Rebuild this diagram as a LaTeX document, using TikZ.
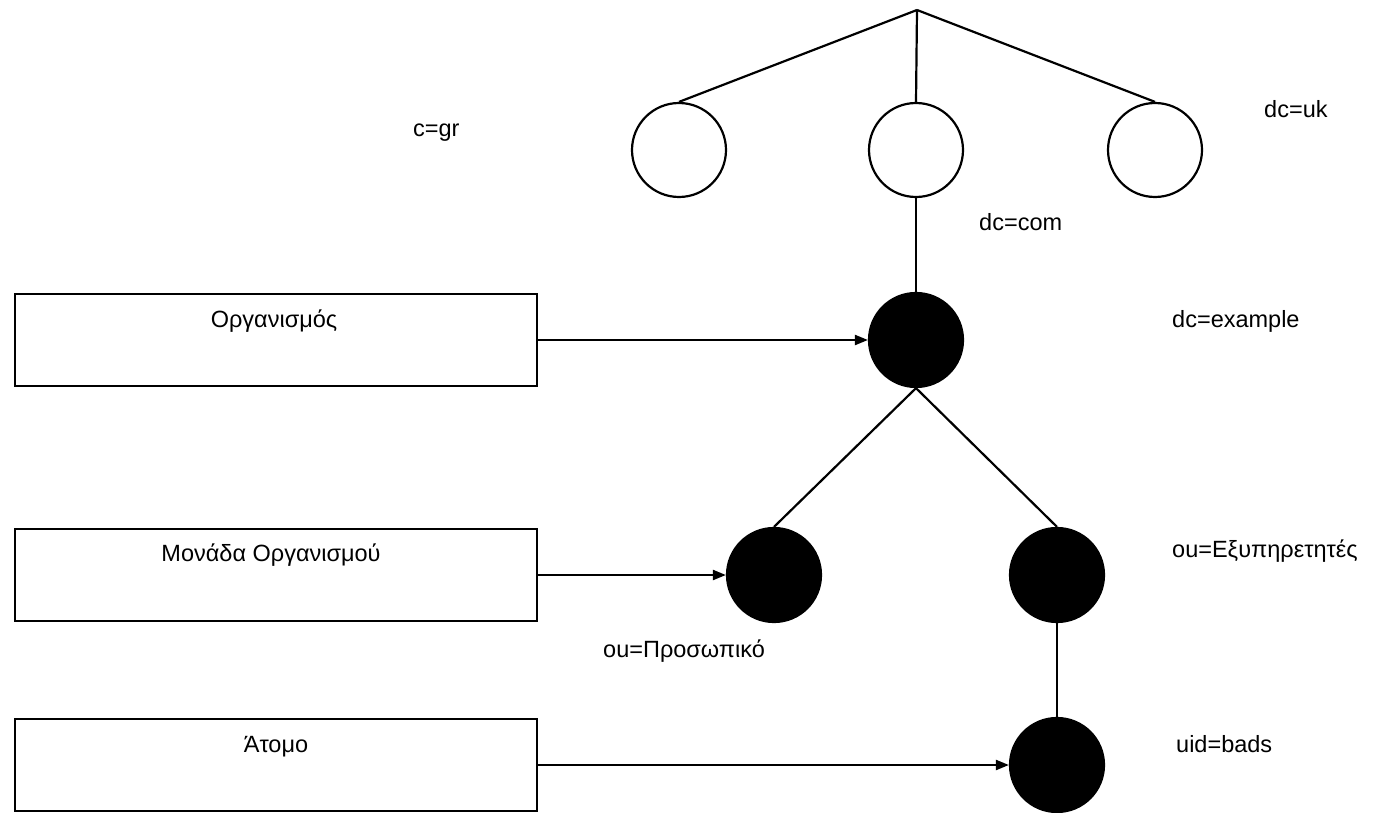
\documentclass[tikz,border=0pt]{standalone}
\usepackage{fontspec}
\setmainfont{Liberation Sans}
\usetikzlibrary{arrows.meta}
\begin{document}
\begin{tikzpicture}[x=1pt,y=-1pt,
  every node/.style={font=\fontsize{23.5}{28}\selectfont},
  wcirc/.style={circle,draw,line width=2.2pt,minimum size=94pt,inner sep=0pt,fill=white},
  bcirc/.style={circle,draw,line width=2.2pt,minimum size=94pt,inner sep=0pt,fill=black},
  boxn/.style={draw,line width=2.2pt,minimum width=522pt,minimum height=92pt,inner sep=0pt},
  lbl/.style={anchor=base west,inner sep=0pt},
  btxt/.style={anchor=base,inner sep=0pt},
  conn/.style={line width=2.2pt},
  arr/.style={line width=2.2pt,-{Triangle[length=13pt,width=10pt]}}]
\useasboundingbox (0,0) rectangle (1373,813);
\coordinate (root) at (917,10);
\node[wcirc] (gr) at (679,150) {};
\node[wcirc] (com) at (916,150) {};
\node[wcirc] (uk) at (1155,150) {};
\node[bcirc] (ex) at (916,340) {};
\node[bcirc] (pr) at (774,575) {};
\node[bcirc] (ex2) at (1057,575) {};
\node[bcirc] (uid) at (1057,765) {};
\node[boxn] (b1) at (276,340) {};
\node[boxn] (b2) at (276,575) {};
\node[boxn] (b3) at (276,765) {};
\node[btxt] (t1) at (274,327) {Οργανισμός};
\node[btxt] (t2) at (271,561) {Μονάδα Οργανισμού};
\node[btxt] (t3) at (276,752) {Άτομο};
\node[lbl] (lgr) at (413,137) {c=gr};
\node[lbl] (luk) at (1264,118) {dc=uk};
\node[lbl] (lcom) at (979,230) {dc=com};
\node[lbl] (lex) at (1172,327) {dc=example};
\node[lbl] (lex2) at (1172,557) {ou=Εξυπηρετητές};
\node[lbl] (lpr) at (603,657) {ou=Προσωπικό};
\node[lbl] (luid) at (1176,752) {uid=bads};
\draw[conn] (root) -- (gr.north);
\draw[conn] (root) -- (com.north);
\draw[conn] (root) -- (uk.north);
\draw[conn] (com.south) -- (ex.north);
\draw[conn] (ex.south) -- (pr.north);
\draw[conn] (ex.south) -- (ex2.north);
\draw[conn] (ex2.south) -- (uid.north);
\draw[arr] (b1.east) -- (ex.west);
\draw[arr] (b2.east) -- (pr.west);
\draw[arr] (b3.east) -- (uid.west);
\end{tikzpicture}
\end{document}
